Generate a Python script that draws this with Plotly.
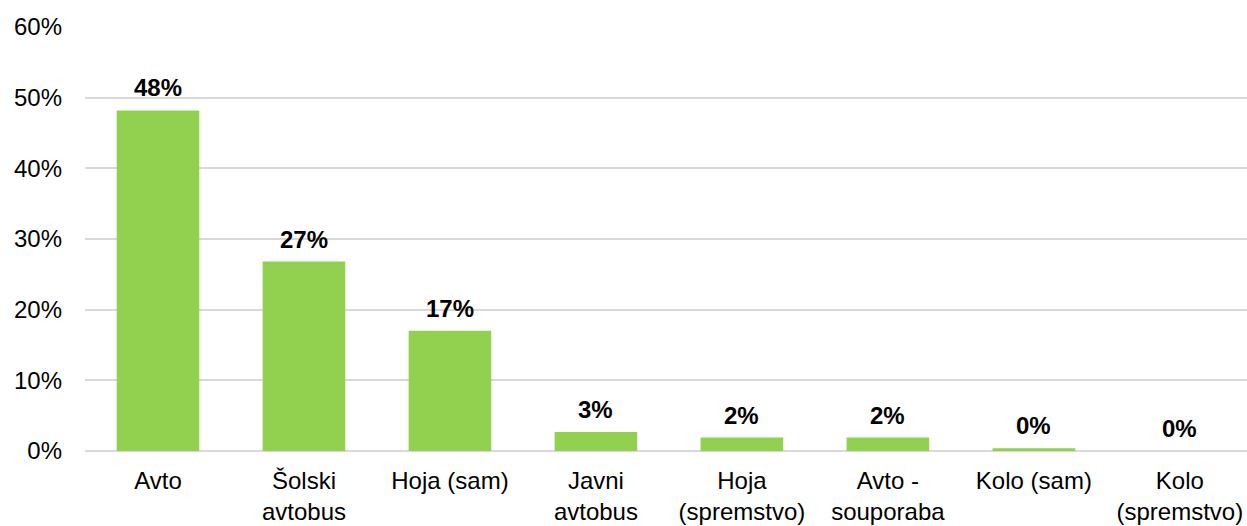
import plotly.graph_objects as go

categories = ["Avto", "Šolski<br>avtobus", "Hoja (sam)", "Javni<br>avtobus",
              "Hoja<br>(spremstvo)", "Avto -<br>souporaba", "Kolo (sam)", "Kolo<br>(spremstvo)"]
shares = [0.482, 0.268, 0.170, 0.027, 0.019, 0.019, 0.004, 0.0]
y_ticks = [0, 0.1, 0.2, 0.3, 0.4, 0.5, 0.6]

FONT = "Liberation Sans, Arial, sans-serif"
GREEN = "#92D050"
SIZE = 24

fig = go.Figure(go.Bar(
    x=categories,
    y=shares,
    marker=dict(color=GREEN, line=dict(width=0)),
    hovertemplate="%{x}: %{y:.0%}<extra></extra>",
))

for cat, val in zip(categories, shares):
    fig.add_annotation(
        x=cat, y=val, text=f"<b>{val:.0%}</b>",
        showarrow=False, yanchor="bottom", yshift=7,
        font=dict(family=FONT, size=SIZE, color="#000000"),
    )

fig.update_layout(
    width=1247, height=526,
    margin=dict(l=85, r=0, t=27, b=75),
    paper_bgcolor="white", plot_bgcolor="white",
    bargap=0.434,
    showlegend=False,
    font=dict(family=FONT, size=SIZE, color="#000000"),
    xaxis=dict(
        range=[-0.5, 7.46],
        showgrid=False, zeroline=False, showline=False,
        ticks="", ticklabelstandoff=13,
        tickfont=dict(family=FONT, size=SIZE, color="#000000"),
    ),
    yaxis=dict(
        range=[0, 0.6],
        tickvals=y_ticks, tickformat=".0%",
        showgrid=True, gridcolor="#D9D9D9", gridwidth=2,
        zeroline=True, zerolinecolor="#D9D9D9", zerolinewidth=2,
        showline=False, ticks="", ticklabelstandoff=22,
        tickfont=dict(family=FONT, size=SIZE, color="#000000"),
    ),
)

fig.write_html("out.html")
